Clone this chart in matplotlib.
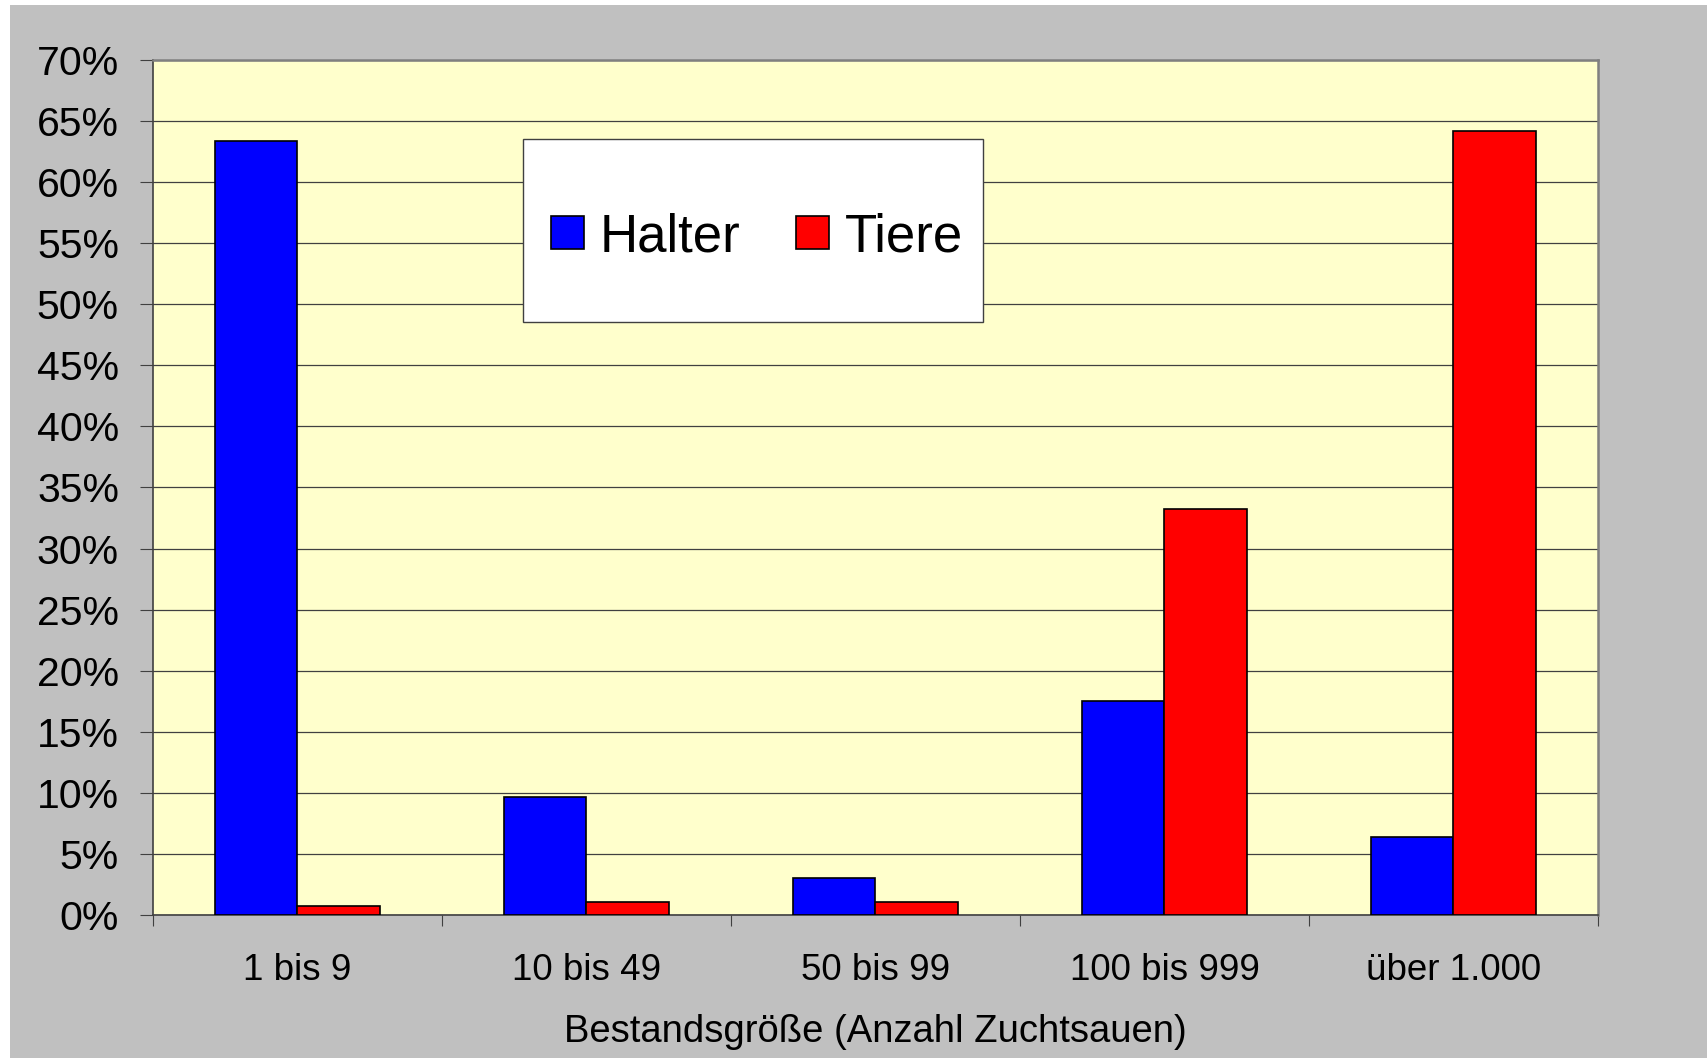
import numpy as np
import matplotlib
matplotlib.use('Agg')
import matplotlib.pyplot as plt
from matplotlib.patches import Rectangle
from matplotlib.ticker import FuncFormatter

### DATA ###
categories = ['1 bis 9', '10 bis 49', '50 bis 99', '100 bis 999', 'über 1.000']
halter = [63.4, 9.7, 3.05, 17.55, 6.4]
tiere = [0.7, 1.05, 1.05, 33.2, 64.15]
yticks = list(range(0, 75, 5))

plt.rcParams['font.family'] = ['Liberation Sans', 'DejaVu Sans']

### FIGURE ###
fig = plt.figure(figsize=(17.08, 10.58), dpi=100, facecolor='white')

# grey chart area with thin white margin at top/left
fig.patches.append(Rectangle((10/1708, 0), 1 - 10/1708, 1 - 5/1058,
                             transform=fig.transFigure, facecolor='#C0C0C0',
                             edgecolor='none', zorder=-10))

ax = fig.add_axes([153/1708, 143/1058, 1445/1708, 855/1058])
ax.set_facecolor('#FFFFCC')

x = np.arange(len(categories))
w = 0.287
ax.bar(x - w/2, halter, w, color='#0000FF', edgecolor='black', linewidth=1.2,
       label='Halter', zorder=3)
ax.bar(x + w/2, tiere, w, color='#FF0000', edgecolor='black', linewidth=1.2,
       label='Tiere', zorder=3)

ax.set_xlim(-0.5, len(categories) - 0.5)
ax.set_ylim(0, 70)

# y axis
ax.set_yticks(yticks)
ax.yaxis.set_major_formatter(FuncFormatter(lambda v, p: '%d%%' % v))
ax.tick_params(axis='y', direction='out', length=9.5, width=0.8,
               color='#404040', labelsize=29.5, pad=15)
ax.yaxis.grid(True, color='#404040', linewidth=0.9, zorder=1)

# x axis: labels at centers, ticks between categories
ax.set_xticks(x)
ax.set_xticklabels(categories)
ax.set_xticks(np.arange(-0.5, len(categories)), minor=True)
ax.tick_params(axis='x', which='major', length=0, labelsize=26.5, pad=27)
ax.tick_params(axis='x', which='minor', direction='out', length=8,
               width=0.8, color='#404040')
ax.set_xlabel('Bestandsgröße (Anzahl Zuchtsauen)', fontsize=27.5, labelpad=19)

for s in ['left', 'bottom']:
    ax.spines[s].set_color('#404040')
    ax.spines[s].set_linewidth(1.2)
for s in ['top', 'right']:
    ax.spines[s].set_color('#808080')
    ax.spines[s].set_linewidth(1.8)

# legend box
fig.patches.append(Rectangle((523/1708, 736/1058), 460/1708, 183/1058,
                             transform=fig.transFigure, facecolor='white',
                             edgecolor='#404040', linewidth=1.0, zorder=5))
leg = fig.legend(loc='center', bbox_to_anchor=(757/1708, 821/1058),
                 ncol=2, frameon=False, fontsize=38, handlelength=0.62,
                 handleheight=0.6, handletextpad=0.3, columnspacing=1.05)
leg.set_zorder(6)

plt.savefig('out.png', dpi=100, facecolor=fig.get_facecolor())
